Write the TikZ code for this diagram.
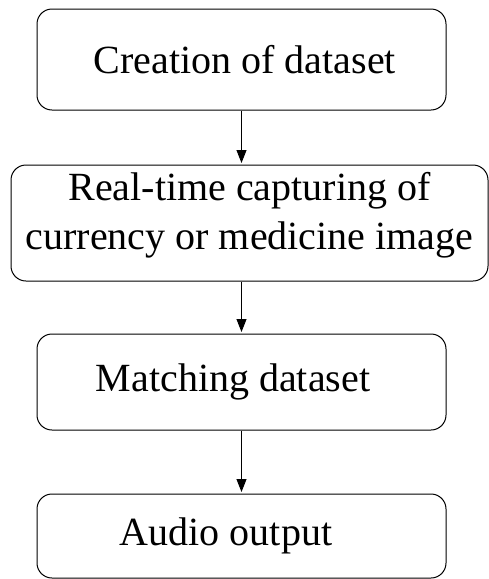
\documentclass[tikz,border=0pt]{standalone}
\usepackage{fontspec}
\setmainfont{Liberation Serif}
\usetikzlibrary{arrows.meta}
\begin{document}
\begin{tikzpicture}[x=1pt,y=-1pt,
  stepbox/.style={draw, line width=1pt, rounded corners=15pt, inner sep=0pt},
  steptext/.style={font=\fontsize{40}{48.5}\selectfont, align=center, inner sep=0pt},
  flow/.style={-{Triangle[length=13pt,width=10pt]}, line width=1pt, shorten >=1.5pt}]
\useasboundingbox (0,0) rectangle (489,579);
\node[stepbox, steptext, minimum width=409pt, minimum height=101pt] (b1) at (241.5,59.5) {\hspace*{7pt}Creation of dataset};
\node[stepbox, minimum width=477pt, minimum height=116pt] (b2) at (249.5,223) {};
\node[steptext] (t2) at (249.5,215) {Real-time capturing of\\currency or medicine image};
\node[stepbox, steptext, minimum width=409pt, minimum height=96pt] (b3) at (241.5,382) {Matching dataset\hspace*{17pt}};
\node[stepbox, steptext, minimum width=409pt, minimum height=84pt] (b4) at (241.5,536) {Audio output\hspace*{31pt}};
\draw[flow] (b1.south) -- (b1.south |- b2.north);
\draw[flow] (b1.south |- b2.south) -- (b3.north);
\draw[flow] (b3.south) -- (b4.north);
\end{tikzpicture}
\end{document}
